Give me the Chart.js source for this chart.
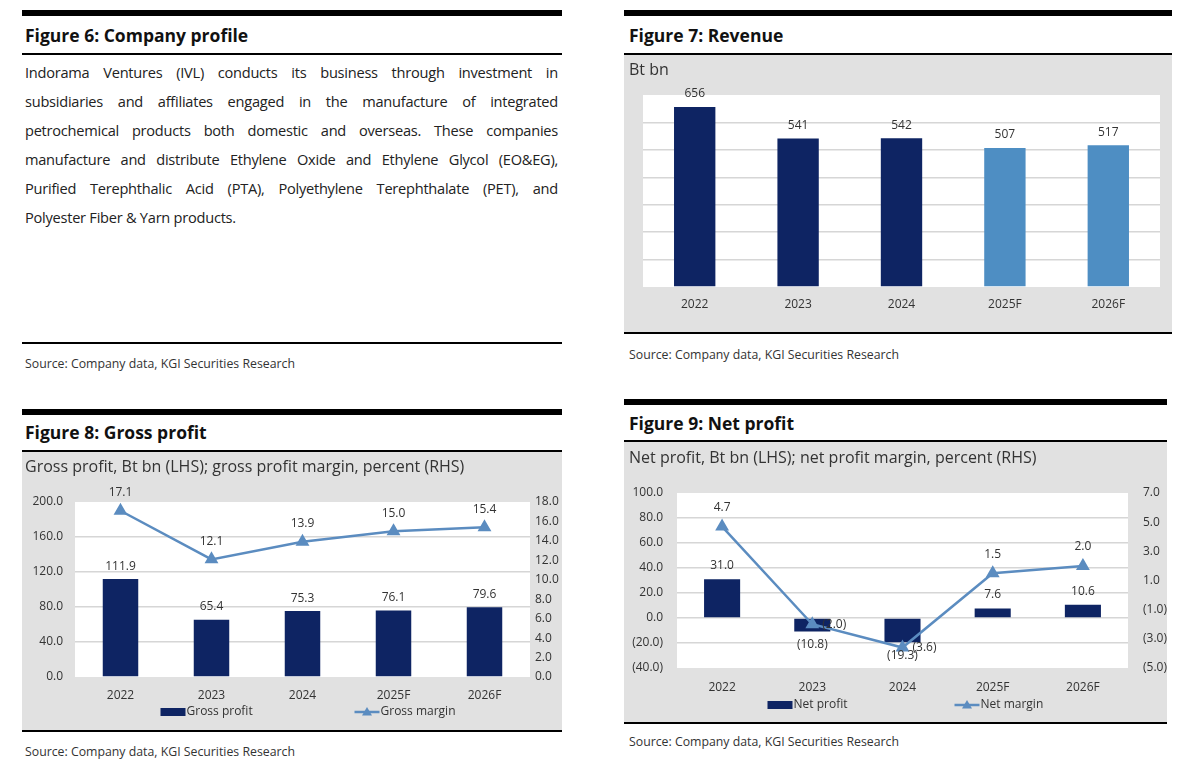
<!DOCTYPE html>
<html>
<head>
<meta charset="utf-8">
<script src="https://cdn.jsdelivr.net/npm/chart.js@4.4.1/dist/chart.umd.min.js"></script>
<style>
  body { margin: 0; width: 1200px; height: 772px; position: relative; background: #fff; overflow: hidden; font-family: "Open Sans", sans-serif; color: #222; }
  .thick { position: absolute; height: 6px; background: #000; }
  .thin { position: absolute; height: 2px; background: #000; }
  .title { position: absolute; font-weight: 700; font-size: 17.5px; line-height: 22px; white-space: nowrap; color: #111; }
  .src { position: absolute; font-size: 12.3px; line-height: 16px; color: #333; white-space: nowrap; }
  .sub { position: absolute; font-size: 16px; line-height: 20px; color: #333; white-space: nowrap; z-index: 2; }
  .box { position: absolute; background: #e1e1e1; }
  .box canvas { position: absolute; left: 0; top: 0; }
  .para { position: absolute; left: 25px; top: 58px; width: 533px; font-size: 14.6px; letter-spacing: -0.25px; line-height: 29px; color: #222; }
  .para div { text-align: justify; text-align-last: justify; }
  .para div.last { text-align-last: left; }
</style>
</head>
<body>

<!-- Figure 6 -->
<div class="thick" style="left:22px;top:10px;width:540px"></div>
<div class="title" style="left:25px;top:24px">Figure 6: Company profile</div>
<div class="thin" style="left:22px;top:53px;width:540px"></div>
<div class="para">
  <div>Indorama Ventures (IVL) conducts its business through investment in</div>
  <div>subsidiaries and affiliates engaged in the manufacture of integrated</div>
  <div>petrochemical products both domestic and overseas. These companies</div>
  <div>manufacture and distribute Ethylene Oxide and Ethylene Glycol (EO&amp;EG),</div>
  <div>Purified Terephthalic Acid (PTA), Polyethylene Terephthalate (PET), and</div>
  <div class="last">Polyester Fiber &amp; Yarn products.</div>
</div>
<div class="thin" style="left:22px;top:342px;width:540px;height:1.5px"></div>
<div class="src" style="left:25px;top:356px">Source: Company data, KGI Securities Research</div>

<!-- Figure 7 -->
<div class="thick" style="left:624px;top:10px;width:548px"></div>
<div class="title" style="left:629px;top:24px">Figure 7: Revenue</div>
<div class="thin" style="left:624px;top:53px;width:548px"></div>
<div class="box" style="left:624px;top:55px;width:548px;height:278px"><canvas id="revChart" width="548" height="278"></canvas></div>
<div class="sub" style="left:629px;top:59px">Bt bn</div>
<div class="thin" style="left:624px;top:332px;width:548px;height:1.5px"></div>
<div class="src" style="left:629px;top:347px">Source: Company data, KGI Securities Research</div>

<!-- Figure 8 -->
<div class="thick" style="left:22px;top:409px;width:540px"></div>
<div class="title" style="left:25px;top:421px">Figure 8: Gross profit</div>
<div class="thin" style="left:22px;top:450px;width:540px"></div>
<div class="box" style="left:22px;top:452px;width:540px;height:278px"><canvas id="gpChart" width="540" height="278"></canvas></div>
<div class="sub" style="left:25px;top:456px">Gross profit, Bt bn (LHS); gross profit margin, percent (RHS)</div>
<div class="thin" style="left:22px;top:730px;width:540px;height:1.5px"></div>
<div class="src" style="left:25px;top:744px">Source: Company data, KGI Securities Research</div>

<!-- Figure 9 -->
<div class="thick" style="left:624px;top:399px;width:543px"></div>
<div class="title" style="left:629px;top:412px">Figure 9: Net profit</div>
<div class="thin" style="left:624px;top:440px;width:543px"></div>
<div class="box" style="left:624px;top:442px;width:543px;height:280px"><canvas id="npChart" width="543" height="280"></canvas></div>
<div class="sub" style="left:629px;top:447px">Net profit, Bt bn (LHS); net profit margin, percent (RHS)</div>
<div class="thin" style="left:624px;top:722px;width:543px;height:1.5px"></div>
<div class="src" style="left:629px;top:734px">Source: Company data, KGI Securities Research</div>

<script>
// data
const years = ['2022', '2023', '2024', '2025F', '2026F'];
const revenue = [656, 541, 542, 507, 517];
const grossProfit = [111.9, 65.4, 75.3, 76.1, 79.6];
const grossMargin = [17.1, 12.1, 13.9, 15.0, 15.4];
const netProfit = [31.0, -10.8, -19.3, 7.6, 10.6];
const netMargin = [4.7, -2.0, -3.6, 1.5, 2.0];

const NAVY = '#0e2463';
const LIGHT = '#4e8ec3';
const LINE = '#5b8cc0';
const FONT = '"Open Sans", sans-serif';

Chart.defaults.font.family = FONT;
Chart.defaults.font.size = 12;
Chart.defaults.color = '#333';
Chart.defaults.animation = false;

// accounting style: negatives in brackets
const fmt1 = v => v < 0 ? '(' + Math.abs(v).toFixed(1) + ')' : v.toFixed(1);

// white plot area on the grey panel
const plotBg = {
    id: 'plotBg',
    beforeDraw(chart) {
        const { ctx, chartArea: a } = chart;
        ctx.save();
        ctx.fillStyle = '#fff';
        ctx.fillRect(a.left, a.top, a.right - a.left, a.bottom - a.top);
        ctx.restore();
    }
};

// value labels next to bars / points
const valueLabels = {
    id: 'valueLabels',
    afterDatasetsDraw(chart) {
        const ctx = chart.ctx;
        chart.data.datasets.forEach((ds, i) => {
            const cfg = ds.valueLabel;
            if (!cfg) return;
            const meta = chart.getDatasetMeta(i);
            meta.data.forEach((el, j) => {
                const pos = cfg.pos ? cfg.pos[j] : 'top';
                let x = el.x, y = el.y;
                ctx.save();
                ctx.font = '12px ' + FONT;
                ctx.fillStyle = '#333';
                ctx.textBaseline = 'middle';
                ctx.textAlign = 'center';
                if (pos === 'top') y -= cfg.gap;
                else if (pos === 'bottom') y += cfg.gap;
                else if (pos === 'right') { x += cfg.sideGap; ctx.textAlign = 'left'; }
                ctx.fillText(cfg.fmt(ds.data[j]), x, y);
                ctx.restore();
            });
        });
    }
};

// legend under the axis: bar swatch and line-with-triangle swatch
const bottomLegend = {
    id: 'bottomLegend',
    afterDraw(chart, args, opts) {
        if (!opts || !opts.items) return;
        const { ctx, chartArea: a } = chart;
        const cx = (a.left + a.right) / 2;
        const y = a.bottom + opts.dy;
        ctx.save();
        ctx.font = '12px ' + FONT;
        ctx.textBaseline = 'middle';
        ctx.textAlign = 'left';
        opts.items.forEach(item => {
            const x = cx + item.dx;
            if (item.kind === 'bar') {
                ctx.fillStyle = item.color;
                ctx.fillRect(x, y - 4, 25, 8);
            } else {
                ctx.strokeStyle = item.color;
                ctx.lineWidth = 2.5;
                ctx.beginPath(); ctx.moveTo(x, y); ctx.lineTo(x + 25, y); ctx.stroke();
                ctx.fillStyle = item.color;
                ctx.beginPath();
                ctx.moveTo(x + 12.5, y - 5); ctx.lineTo(x + 17.5, y + 3.5); ctx.lineTo(x + 7.5, y + 3.5);
                ctx.closePath(); ctx.fill();
            }
            ctx.fillStyle = '#333';
            ctx.fillText(item.text, x + 26, y);
        });
        ctx.restore();
    }
};

function edgeGrid(min, max) {
    return ctx => (ctx.tick && (ctx.tick.value === min || ctx.tick.value === max)) ? 'rgba(0,0,0,0)' : '#d6d6d6';
}

const xAxis = (pad, h) => ({
    grid: { display: false, drawTicks: false }, border: { display: false },
    ticks: { padding: pad, color: '#333' },
    afterFit: s => { s.height = h; }
});

// Figure 7: revenue
new Chart(document.getElementById('revChart'), {
    type: 'bar',
    data: {
        labels: years,
        datasets: [{
            data: revenue,
            backgroundColor: years.map(y => y.endsWith('F') ? LIGHT : NAVY),
            barPercentage: 0.4,
            categoryPercentage: 1,
            valueLabel: { gap: 13, fmt: v => String(v) }
        }]
    },
    options: {
        responsive: false,
        layout: { padding: { left: 19, right: 12, top: 40, bottom: 0 } },
        plugins: { legend: { display: false }, tooltip: { enabled: false } },
        scales: {
            x: xAxis(10, 46),
            y: {
                min: 0, max: 700,
                ticks: { stepSize: 100, display: false },
                grid: { color: edgeGrid(0, 700), lineWidth: 1.5, drawTicks: false },
                border: { display: false },
                afterFit: s => { s.width = 0; }
            }
        }
    },
    plugins: [plotBg, valueLabels]
});

// Figure 8: gross profit
new Chart(document.getElementById('gpChart'), {
    type: 'bar',
    data: {
        labels: years,
        datasets: [{
            type: 'line',
            data: grossMargin,
            yAxisID: 'y1',
            order: 0,
            borderColor: LINE, backgroundColor: LINE,
            borderWidth: 2.5, tension: 0,
            pointStyle: 'triangle', pointRadius: 5.5,
            valueLabel: { gap: 18, fmt: fmt1 }
        }, {
            type: 'bar',
            data: grossProfit,
            yAxisID: 'y',
            order: 1,
            backgroundColor: NAVY,
            barPercentage: 0.39,
            categoryPercentage: 1,
            valueLabel: { gap: 13, fmt: fmt1 }
        }]
    },
    options: {
        responsive: false,
        layout: { padding: { left: 0, right: 0, top: 50, bottom: 0 } },
        plugins: {
            legend: { display: false }, tooltip: { enabled: false },
            bottomLegend: { dy: 35, items: [
                { kind: 'bar', color: NAVY, text: 'Gross profit', dx: -142 },
                { kind: 'line', color: LINE, text: 'Gross margin', dx: 52 }
            ] }
        },
        scales: {
            x: xAxis(11, 53),
            y: {
                position: 'left', min: 0, max: 200,
                ticks: { stepSize: 40, padding: 12, callback: v => fmt1(v) },
                grid: { color: edgeGrid(0, 200), lineWidth: 1.5, drawTicks: false },
                border: { display: false },
                afterFit: s => { s.width = 53; }
            },
            y1: {
                position: 'right', min: 0, max: 18,
                ticks: { stepSize: 2, padding: 5, callback: v => fmt1(v) },
                grid: { display: false, drawTicks: false },
                border: { display: false },
                afterFit: s => { s.width = 32; }
            }
        }
    },
    plugins: [plotBg, valueLabels, bottomLegend]
});

// Figure 9: net profit
new Chart(document.getElementById('npChart'), {
    type: 'bar',
    data: {
        labels: years,
        datasets: [{
            type: 'line',
            data: netMargin,
            yAxisID: 'y1',
            order: 0,
            borderColor: LINE, backgroundColor: LINE,
            borderWidth: 2.5, tension: 0,
            pointStyle: 'triangle', pointRadius: 5.5,
            valueLabel: { gap: 19, sideGap: 10, fmt: fmt1, pos: ['top', 'right', 'right', 'top', 'top'] }
        }, {
            type: 'bar',
            data: netProfit,
            yAxisID: 'y',
            order: 1,
            backgroundColor: NAVY,
            barPercentage: 0.4,
            categoryPercentage: 1,
            valueLabel: { gap: 13.5, fmt: fmt1, pos: ['top', 'bottom', 'bottom', 'top', 'top'] }
        }]
    },
    options: {
        responsive: false,
        layout: { padding: { left: 0, right: 0, top: 51, bottom: 0 } },
        plugins: {
            legend: { display: false }, tooltip: { enabled: false },
            bottomLegend: { dy: 37, items: [
                { kind: 'bar', color: NAVY, text: 'Net profit', dx: -135 },
                { kind: 'line', color: LINE, text: 'Net margin', dx: 52 }
            ] }
        },
        scales: {
            x: xAxis(12, 54),
            y: {
                position: 'left', min: -40, max: 100,
                ticks: { stepSize: 20, padding: 14, callback: v => fmt1(v) },
                grid: { color: edgeGrid(-40, 100), lineWidth: 1.5, drawTicks: false },
                border: { display: false },
                afterFit: s => { s.width = 53; }
            },
            y1: {
                position: 'right', min: -5, max: 7,
                ticks: { stepSize: 2, padding: 15, callback: v => fmt1(v) },
                grid: { display: false, drawTicks: false },
                border: { display: false },
                afterFit: s => { s.width = 39; }
            }
        }
    },
    plugins: [plotBg, valueLabels, bottomLegend]
});
</script>
</body>
</html>
